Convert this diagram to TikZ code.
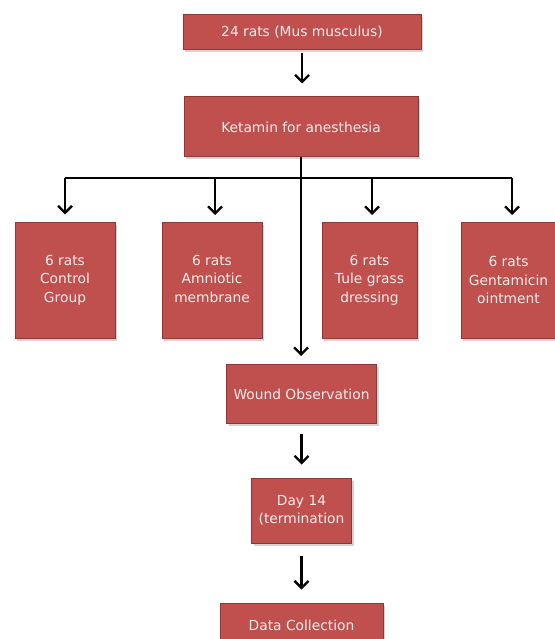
\documentclass[tikz,border=0pt]{standalone}
\usepackage{fontspec}
\setmainfont{DejaVu Sans}
\usetikzlibrary{arrows.meta,shadows}
\definecolor{boxfill}{HTML}{C0504D}
\definecolor{boxline}{HTML}{8C3836}
\definecolor{boxtext}{HTML}{F7ECEC}
\begin{document}
\begin{tikzpicture}[x=1pt,y=-1pt,
  box/.style={draw=boxline, line width=1pt, fill=boxfill, text=boxtext,
    font=\fontsize{13.8}{18.5}\selectfont, align=center, inner sep=2pt,
    drop shadow={shadow xshift=2pt, shadow yshift=-2.5pt, opacity=0.35}},
  conn/.style={line width=2.3pt, black},
  arr/.style={conn, -{Straight Barb[length=7pt,width=14pt,line width=2.3pt]}}]
\useasboundingbox (0,0) rectangle (554,639);
\node[box, minimum width=238pt, minimum height=35pt] (rats) at (302,32.5) {24 rats (Mus musculus)};
\node[box, minimum width=234pt, minimum height=60pt] (ket) at (301,127) {Ketamin for anesthesia};
\node[box, minimum width=100pt, minimum height=116pt] (g1) at (65,280) {6 rats\\Control\\Group};
\node[box, minimum width=100pt, minimum height=116pt] (g2) at (212,280) {\raisebox{8pt}{\begin{tabular}{@{}c@{}}6 rats\\Amniotic\\membrane\end{tabular}}};
\node[box, minimum width=95pt, minimum height=116pt] (g3) at (369.5,280) {6 rats\\Tule grass\\dressing};
\node[box, minimum width=95pt, minimum height=116pt] (g4) at (508.5,280) {6 rats\\Gentamicin\\ointment};
\node[box, minimum width=150pt, minimum height=59pt] (wound) at (301.5,394) {Wound Observation};
\node[box, minimum width=100pt, minimum height=65pt] (day) at (301.5,510.5) {Day 14\\(termination};
\node[box, minimum width=163pt, minimum height=44pt] (data) at (301.5,625) {Data Collection};
\coordinate (bl) at (65,178);
\coordinate (br) at (512,178);
\draw[arr, shorten <=3pt, shorten >=13pt] (rats.south) -- (rats.south |- ket.north);
\draw[conn] (bl) -- (br);
\draw[arr, shorten >=7pt] (bl) -- (g1.north);
\draw[arr, shorten >=7pt] (215,178) -- (215,222);
\draw[arr, shorten >=7pt] (372,178) -- (372,222);
\draw[arr, shorten >=7pt] (br) -- (512,222);
\draw[arr, shorten >=8pt] (ket.south) -- (ket.south |- wound.north);
\draw[arr, shorten <=10pt, shorten >=13pt] (wound) -- (day);
\draw[arr, shorten <=12pt, shorten >=13pt] (day) -- (data);
\end{tikzpicture}
\end{document}
